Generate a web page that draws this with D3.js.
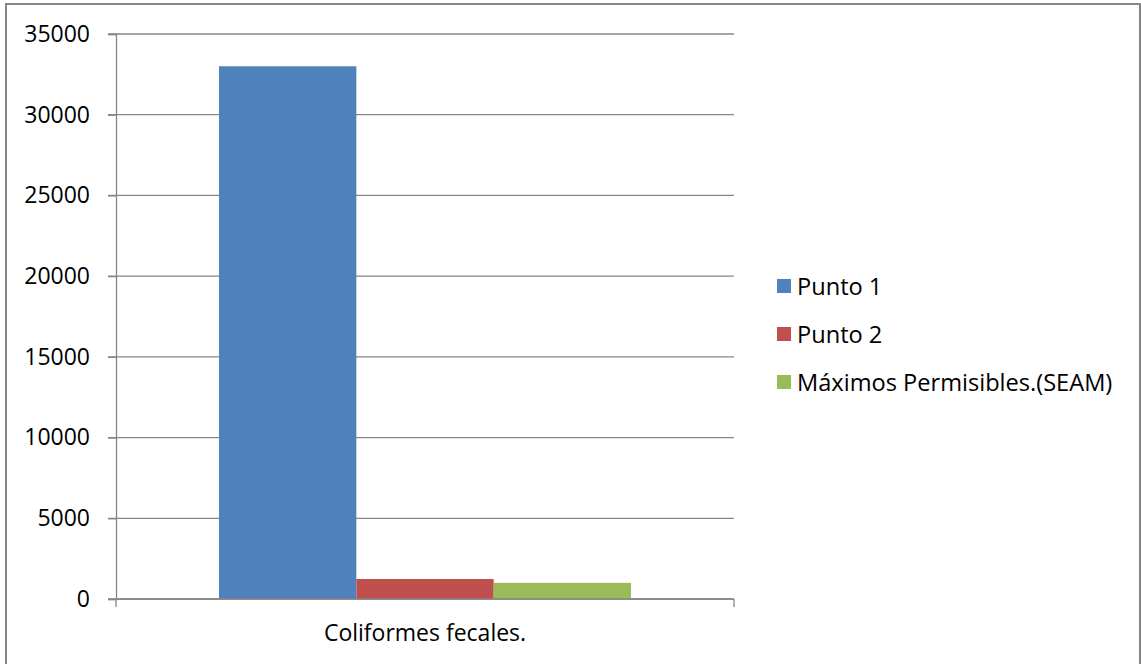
<!DOCTYPE html>
<html>
<head>
<meta charset="utf-8">
<script src="https://cdn.jsdelivr.net/npm/d3@7"></script>
<style>
  body { margin: 0; background: #fff; }
  svg { display: block; font-family: 'Open Sans', sans-serif; }
</style>
</head>
<body>
<svg id="chart" width="1141" height="664"></svg>
<script>
const categories = ['Coliformes fecales.']
const seriesNames = ['Punto 1', 'Punto 2', 'Máximos Permisibles.(SEAM)']
const punto1 = [33000]
const punto2 = [1240]
const maximos = [1000]
const yTicks = [0, 5000, 10000, 15000, 20000, 25000, 30000, 35000]
const colors = ['#4F81BD', '#C0504D', '#9BBB59']

const series = [punto1, punto2, maximos]
const gridColor = '#868686'

let svg = d3.select('#chart')

// outer frame
svg.append('rect')
	.attr('x', 6).attr('y', 4)
	.attr('width', 1134).attr('height', 700)
	.attr('fill', 'none')
	.attr('stroke', gridColor)
	.attr('stroke-width', 2)

let x = d3.scaleBand()
	.domain(categories)
	.range([116, 734])

let x1 = d3.scaleBand()
	.domain(seriesNames)
	.range([0, x.bandwidth()])
	.paddingOuter(0.75)

let y = d3.scaleLinear()
	.domain([0, 35000])
	.range([599, 34])

// gridlines
svg.append('g')
	.selectAll('line')
	.data(yTicks)
	.join('line')
	.attr('x1', 108)
	.attr('x2', 734)
	.attr('y1', d => y(d))
	.attr('y2', d => y(d))
	.attr('stroke', gridColor)
	.attr('stroke-width', 1.3)

// bars
let rows = []
categories.forEach((c, i) => {
	seriesNames.forEach((s, j) => rows.push({ cat: c, name: s, value: series[j][i], color: colors[j] }))
})

svg.append('g')
	.selectAll('rect')
	.data(rows)
	.join('rect')
	.attr('x', d => x(d.cat) + x1(d.name))
	.attr('y', d => y(d.value))
	.attr('width', x1.bandwidth())
	.attr('height', d => y(0) - y(d.value))
	.attr('fill', d => d.color)

// y axis
let yAxis = svg.append('g')
	.attr('transform', 'translate(116,0)')
	.call(d3.axisLeft(y).tickValues(yTicks).tickSize(8).tickPadding(18).tickFormat(d3.format('d')))
yAxis.select('.domain').attr('stroke', gridColor).attr('stroke-width', 1.3)
yAxis.selectAll('.tick line').attr('stroke', gridColor).attr('stroke-width', 1.3)
yAxis.selectAll('.tick text')
	.attr('font-size', 23)
	.attr('font-family', "'Open Sans', sans-serif")
	.attr('fill', '#000')

// x axis
let xAxis = svg.append('g')
	.attr('transform', 'translate(0,599)')
	.call(d3.axisBottom(x).tickSize(0).tickPadding(26))
xAxis.select('.domain').remove()
xAxis.selectAll('.tick text')
	.attr('font-size', 23)
	.attr('font-family', "'Open Sans', sans-serif")
	.attr('fill', '#000')

svg.append('line')
	.attr('x1', 116).attr('x2', 734)
	.attr('y1', y(0)).attr('y2', y(0))
	.attr('stroke', gridColor).attr('stroke-width', 1.6)

// category boundary ticks
let edges = [x.range()[0]].concat(categories.map(c => x(c) + x.bandwidth()))
svg.append('g')
	.selectAll('line')
	.data(edges)
	.join('line')
	.attr('x1', d => d).attr('x2', d => d)
	.attr('y1', y(0)).attr('y2', y(0) + 8)
	.attr('stroke', gridColor)
	.attr('stroke-width', 1.3)

// legend
let legend = svg.append('g')
	.selectAll('g')
	.data(seriesNames)
	.join('g')
	.attr('transform', (d, i) => `translate(777,${287 + i * 48})`)

legend.append('rect')
	.attr('x', 0).attr('y', -8)
	.attr('width', 14).attr('height', 14)
	.attr('fill', (d, i) => colors[i])

legend.append('text')
	.attr('x', 20)
	.attr('dy', '0.35em')
	.attr('font-size', 23.6)
	.attr('fill', '#000')
	.text(d => d)
</script>
</body>
</html>
